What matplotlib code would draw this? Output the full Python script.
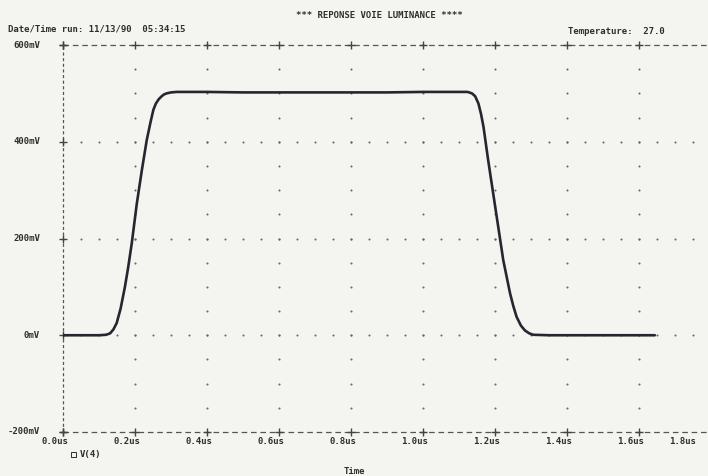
import numpy as np
import matplotlib.pyplot as plt
import matplotlib.transforms as mtrans

# V(4) (time in us, voltage in mV)
t_us = [0.0, 0.05, 0.10, 0.12, 0.131, 0.14, 0.149, 0.16, 0.172, 0.181, 0.191, 0.205,
        0.219, 0.2325, 0.243, 0.251, 0.258, 0.266, 0.274, 0.281, 0.288, 0.30, 0.316,
        0.40, 0.50, 0.60, 0.70, 0.80, 0.90, 1.00, 1.10, 1.124, 1.136, 1.145, 1.154,
        1.161, 1.168, 1.181, 1.195, 1.209, 1.223, 1.242, 1.251, 1.260, 1.272, 1.283,
        1.295, 1.306, 1.35, 1.45, 1.55, 1.644]
v_mV = [0, 0, 0, 1, 4, 12, 25, 55, 100, 140, 190, 272,
        341, 403, 440, 466, 479, 488, 494, 498, 500, 502, 503,
        503, 502, 502, 502, 502, 502, 503, 503, 503, 500, 494, 479,
        458, 431, 362, 293, 224, 155, 86, 60, 38, 20, 10,
        4, 1, 0, 0, 0, 0]

xticks = [0.0, 0.2, 0.4, 0.6, 0.8, 1.0, 1.2, 1.4, 1.6]
xtick_labels = ['0.0us', '0.2us', '0.4us', '0.6us', '0.8us', '1.0us', '1.2us', '1.4us', '1.6us']
yticks = [600, 400, 200, 0, -200]
ytick_labels = ['600mV', '400mV', '200mV', '0mV', '-200mV']

bg = '#f4f4f1'
ink = '#2e2e2e'
fnt = dict(family='DejaVu Sans Mono', size=6.5, color=ink, weight='bold')

fig = plt.figure(figsize=(7.08, 4.76), dpi=100, facecolor=bg)
W, H = 708, 476
x0, top, bot = 63, 45, 432
ax = fig.add_axes([x0 / W, (H - bot) / H, (W - x0) / W, (bot - top) / H])
ax.set_facecolor(bg)
xmax = (W - x0) / 360.0
ax.set_xlim(0, xmax)
ax.set_ylim(-200, 600)
ax.axis('off')

# frame: dashed top, bottom and left lines with + marks
ax.plot([0, xmax], [600, 600], color='#555555', lw=0.9, dashes=(4.5, 3), clip_on=False)
ax.plot([0, xmax], [-200, -200], color='#555555', lw=0.9, dashes=(4.5, 3), clip_on=False)
ax.plot([0, 0], [-200, 600], color='#555555', lw=0.9, dashes=(2.5, 2), clip_on=False)
ax.plot(xticks, [600] * len(xticks), '+', color='#444444', ms=6, mew=1, clip_on=False)
ax.plot(xticks, [-200] * len(xticks), '+', color='#444444', ms=6, mew=1, clip_on=False)
ax.plot([0] * len(yticks), yticks, '+', color='#444444', ms=6, mew=1, clip_on=False)

# dotted grid
xs = np.arange(0.05, xmax, 0.05)
for yy in [400, 200, 0]:
    ax.plot(xs, [yy] * len(xs), 'o', color='#6a6a6a', ms=1.5, mew=0, clip_on=False)
ys = np.arange(-150, 600, 50)
for xx in xticks[1:]:
    ax.plot([xx] * len(ys), ys, 'o', color='#6a6a6a', ms=1.5, mew=0)

# trace
ax.plot(t_us, v_mV, color='#262630', lw=1.9, solid_capstyle='round', solid_joinstyle='round')

# tick labels
xt = mtrans.offset_copy(ax.transData, fig=fig, x=-8, y=-9, units='dots')
for xv, lab in zip(xticks, xtick_labels):
    ax.text(xv, -200, lab, transform=xt, ha='center', va='center', **fnt)
yt = mtrans.offset_copy(ax.transData, fig=fig, x=-23, y=0, units='dots')
for yv, lab in zip(yticks, ytick_labels):
    ax.text(0, yv, lab, transform=yt, ha='right', va='center', **fnt)

def ftext(px, py, s, ha='left'):
    fig.text(px / W, 1 - py / H, s, ha=ha, va='center', **fnt)

ftext(683, 441, '1.8us', ha='center')
ftext(379, 16, '*** REPONSE VOIE LUMINANCE ****', ha='center')
ftext(8, 29, 'Date/Time run: 11/13/90  05:34:15')
ftext(568, 31, 'Temperature:  27.0')
ftext(80, 455, 'V(4)')
ftext(354, 471, 'Time', ha='center')
fig.patches.append(plt.Rectangle((71 / W, 1 - 457 / H), 5 / W, 5 / H, transform=fig.transFigure,
                                 fill=False, ec=ink, lw=0.7))

fig.savefig('out.png', dpi=100, facecolor=bg)
